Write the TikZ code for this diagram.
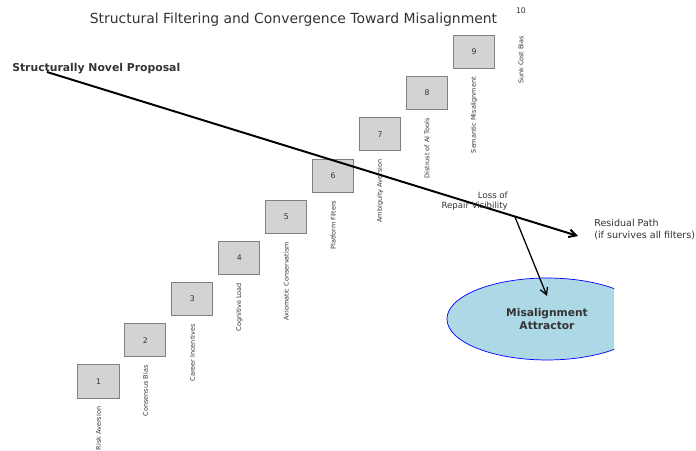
\documentclass[tikz,border=0pt]{standalone}
\usepackage{fontspec}
\setmainfont{DejaVu Sans}
\usepackage{tikz}
\usetikzlibrary{arrows.meta,shapes.geometric,calc}
\definecolor{textgray}{RGB}{51,51,51}
\definecolor{boxfill}{RGB}{211,211,211}
\definecolor{boxedge}{RGB}{128,128,128}
\definecolor{attrfill}{RGB}{173,216,230}
\tikzset{
	filterbox/.style={draw=boxedge, fill=boxfill, line width=0.7pt, minimum width=29.2pt, minimum height=23.5pt, inner sep=0pt, text=textgray, font=\fontsize{5.5}{6}\selectfont},
	ghostbox/.style={minimum width=29.2pt, minimum height=23.5pt, inner sep=0pt, text=textgray, font=\fontsize{5.5}{6}\selectfont},
	filterlabel/.style={rotate=90, anchor=east, inner sep=0pt, text=textgray, font=\fontsize{4.6}{5}\selectfont},
}

\begin{document}
\begin{tikzpicture}[x=0.25mm, y=-0.25mm, >={Straight Barb[length=5pt,width=5.5pt]}]
		\useasboundingbox (0,0) rectangle (696,451);
		%Titolo
		\node [text=textgray, font=\fontsize{9.9}{11}\selectfont] (title) at (293.5,20) {Structural Filtering and Convergence Toward Misalignment};
		%Scalinata dei filtri
		\foreach \i/\sty/\lab in {1/filterbox/Risk Aversion, 2/filterbox/Consensus Bias, 3/filterbox/Career Incentives, 4/filterbox/Cognitive Load, 5/filterbox/Axiomatic Conservatism, 6/filterbox/Platform Filters, 7/filterbox/Ambiguity Aversion, 8/filterbox/Distrust of AI Tools, 9/filterbox/Semantic Misalignment, 10/ghostbox/Sunk Cost Bias}
		{
			\node [\sty] (b\i) at ({98.5+46.94*(\i-1)},{381.5-41.19*(\i-1)}) {\i};
			\node [filterlabel] (l\i) at ([yshift=-5.7pt]b\i.south) {\lab};
		}
		%Attrattore
		\begin{scope}
			\clip (0,0) rectangle (614,451);
			\node [ellipse, draw=blue, fill=attrfill, line width=0.5pt, minimum width=142.3pt, minimum height=58.3pt, inner sep=0pt, align=center, text=textgray, font=\bfseries\fontsize{7.6}{9.2}\selectfont] (attractor) at (547,319) {Misalignment\\Attractor};
		\end{scope}
		%Proposta e percorso
		\node [anchor=west, inner sep=0pt, text=textgray, font=\bfseries\fontsize{7.7}{9}\selectfont] (proposal) at (12,69) {Structurally Novel Proposal};
		\coordinate (start) at (47,72);
		\coordinate (residual) at (578,236);
		\coordinate (repair) at ($(start)!0.881!(residual)$);
		\coordinate (hit) at (547,296);
		\draw [->, line width=1.4pt] (start) -- (residual);
		\draw [->, line width=0.9pt] (repair) -- (hit);
		%Etichette
		\node [anchor=east, align=right, inner sep=0pt, text=textgray, font=\fontsize{6.1}{6.6}\selectfont] (loss) at (508,201) {Loss of\\Repair Visibility};
		\node [anchor=west, align=left, inner sep=0pt, text=textgray, font=\fontsize{6.8}{8}\selectfont] (residualtext) at (594,229.5) {Residual Path\\(if survives all filters)};
	\end{tikzpicture}
\end{document}
